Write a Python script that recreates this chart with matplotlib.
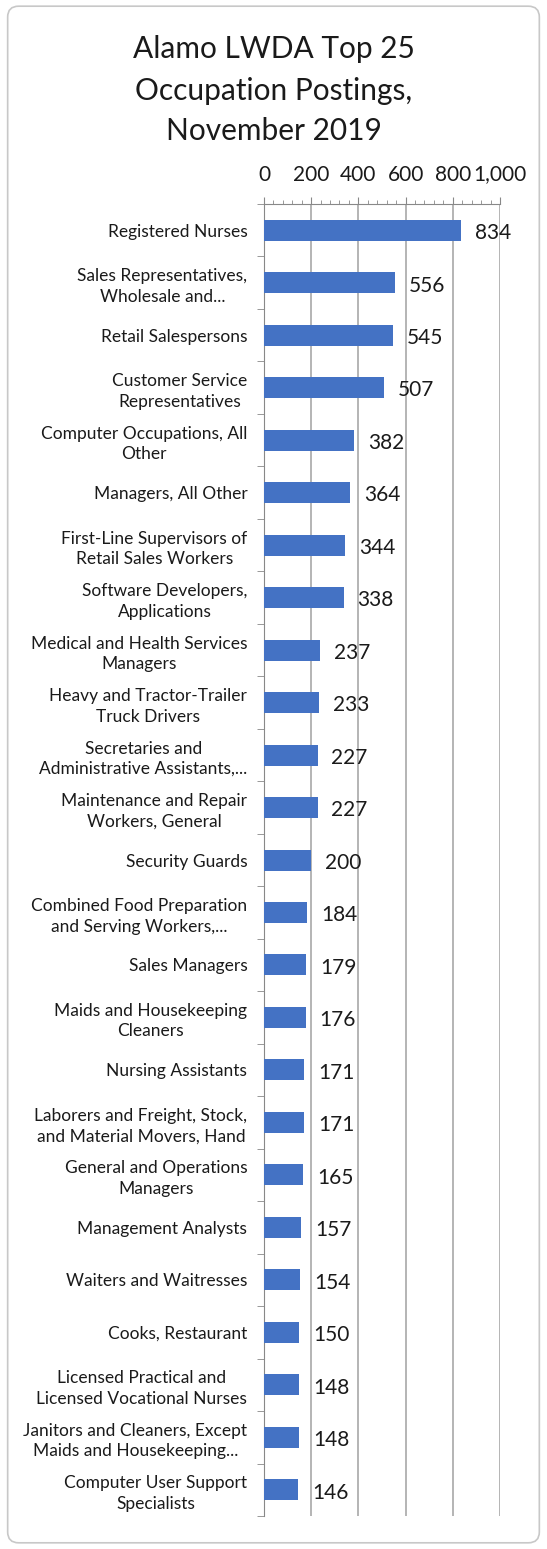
import matplotlib.pyplot as plt
from matplotlib.patches import FancyBboxPatch
from matplotlib.ticker import FuncFormatter, MultipleLocator

plt.rcParams['font.family'] = ['Lato', 'DejaVu Sans']

occupations = [
    "Registered Nurses",
    "Sales Representatives,\nWholesale and...",
    "Retail Salespersons",
    "Customer Service\nRepresentatives",
    "Computer Occupations, All\nOther",
    "Managers, All Other",
    "First-Line Supervisors of\nRetail Sales Workers",
    "Software Developers,\nApplications",
    "Medical and Health Services\nManagers",
    "Heavy and Tractor-Trailer\nTruck Drivers",
    "Secretaries and\nAdministrative Assistants,...",
    "Maintenance and Repair\nWorkers, General",
    "Security Guards",
    "Combined Food Preparation\nand Serving Workers,...",
    "Sales Managers",
    "Maids and Housekeeping\nCleaners",
    "Nursing Assistants",
    "Laborers and Freight, Stock,\nand Material Movers, Hand",
    "General and Operations\nManagers",
    "Management Analysts",
    "Waiters and Waitresses",
    "Cooks, Restaurant",
    "Licensed Practical and\nLicensed Vocational Nurses",
    "Janitors and Cleaners, Except\nMaids and Housekeeping...",
    "Computer User Support\nSpecialists",
]
postings = [834, 556, 545, 507, 382, 364, 344, 338, 237, 233, 227, 227, 200,
            184, 179, 176, 171, 171, 165, 157, 154, 150, 148, 148, 146]

fig = plt.figure(figsize=(5.47, 15.49), dpi=100)

# abgerundeter Rahmen
rahmen = FancyBboxPatch((0.014, 0.004), 0.972, 0.992, transform=fig.transFigure,
                        boxstyle="round,pad=0,rounding_size=0.02",
                        fc="none", ec="#C8C8C8", lw=1.2, mutation_aspect=547 / 1549)
fig.patches.append(rahmen)

ax = fig.add_axes([0.4826, 0.0213, 0.4314, 0.847])
ax.set_facecolor("none")

y = range(len(occupations))
ax.barh(y, postings, height=0.4, color="#4472C4", zorder=3)
ax.set_ylim(len(occupations) - 0.5, -0.5)
ax.set_xlim(0, 1000)

for i, v in enumerate(postings):
    ax.annotate(f"{v}", (v, i), xytext=(10, -2), textcoords="offset points",
                va="center", ha="left", fontsize=15, color="#1a1a1a")

# x-Achse oben
ax.xaxis.tick_top()
ax.xaxis.set_major_locator(MultipleLocator(200))
ax.xaxis.set_minor_locator(MultipleLocator(40))
ax.xaxis.set_major_formatter(FuncFormatter(lambda v, p: f"{int(v):,}"))
ax.tick_params(axis="x", which="major", length=5, color="#888888", labelsize=15,
               pad=9, labelcolor="#1a1a1a")
ax.tick_params(axis="x", which="minor", length=3, color="#888888", top=True)
ax.grid(axis="x", which="major", color="#A0A0A0", lw=1.1, zorder=0)

# y-Achse: Striche zwischen den Kategorien
ax.set_yticks(list(y))
ax.set_yticklabels(occupations, fontsize=12.5, multialignment="center",
                   linespacing=1.35, color="#1a1a1a")
ax.set_yticks([i - 0.5 for i in range(len(occupations) + 1)], minor=True)
ax.tick_params(axis="y", which="major", length=0, pad=12)
ax.tick_params(axis="y", which="minor", length=5, color="#888888")

for s in ["right", "bottom"]:
    ax.spines[s].set_visible(False)
ax.spines["left"].set_color("#888888")
ax.spines["top"].set_color("#888888")

fig.text(0.5, 0.9685, "Alamo LWDA Top 25", ha="center", va="center", fontsize=21.5, color="#1a1a1a")
fig.text(0.5, 0.9415, "Occupation Postings,", ha="center", va="center", fontsize=21.5, color="#1a1a1a")
fig.text(0.5, 0.9155, "November 2019", ha="center", va="center", fontsize=21.5, color="#1a1a1a")

fig.savefig("out.png", dpi=100)
